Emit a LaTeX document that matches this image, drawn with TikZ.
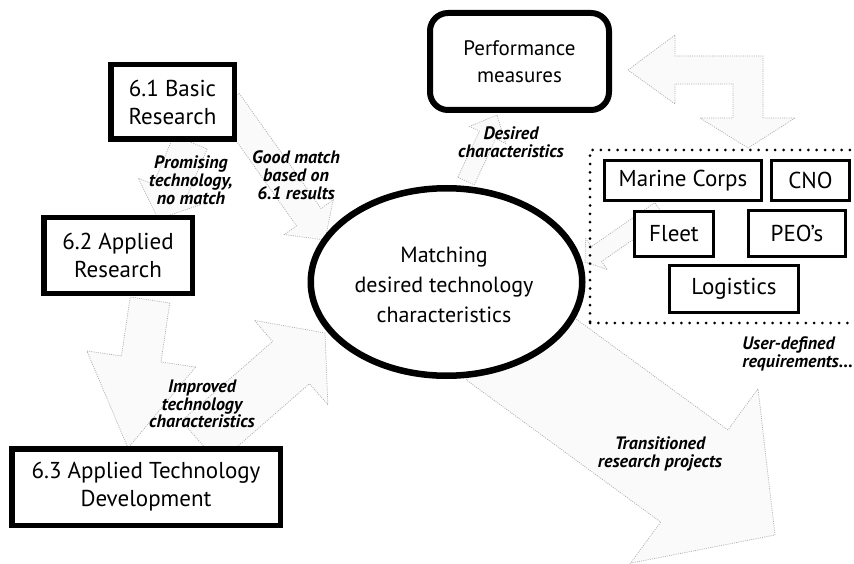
\documentclass[tikz,border=0pt]{standalone}
\usepackage{fontspec}
\setmainfont{PT Sans}
\usetikzlibrary{calc,shapes.geometric}
\pgfdeclarelayer{back}
\pgfdeclarelayer{bg}
\pgfsetlayers{back,bg,main}
\tikzset{
  mainbox/.style={draw, line width=5.5pt, fill=white, inner sep=0pt, align=center, font=\fontsize{23}{28}\selectfont},
  userbox/.style={draw, line width=3pt, fill=white, inner sep=0pt, font=\fontsize{23}{26}\selectfont},
  lbl/.style={align=center, font=\bfseries\itshape\fontsize{18}{17.8}\selectfont, inner sep=0pt},
  blockarr/.style={draw=black!32, fill=black!2, line width=0.7pt, dash pattern=on 1pt off 1.2pt},
  dotframe/.style={draw, line width=3pt, line cap=round, dash pattern=on 0pt off 8.3pt},
}
\newcommand\blockarrow[5]{%
  \coordinate (ba-h) at ($(#2)!#5!(#1)$);
  \path[blockarr] ($(#1)!#3!90:(#2)$) -- ($(ba-h)!#3!90:(#2)$) -- ($(ba-h)!#4!90:(#2)$) -- (#2) -- ($(ba-h)!#4!-90:(#2)$) -- ($(ba-h)!#3!-90:(#2)$) -- ($(#1)!#3!-90:(#2)$) -- cycle;
}
\begin{document}
\begin{tikzpicture}[x=1pt,y=-1pt]
\useasboundingbox (0,0) rectangle (854,564);
\begin{pgfonlayer}{back}
\fill[white] (0,0) rectangle (854,564);
\end{pgfonlayer}
\clip (0,0) rectangle (854,564);
% main boxes
\node[mainbox, minimum width=123.5pt, minimum height=74.5pt] (b61) at (172.5,102) {6.1 Basic\\Research};
\node[mainbox, minimum width=148.5pt, minimum height=75.5pt] (b62) at (118,255.5) {6.2 Applied\\Research};
\node[mainbox, minimum width=268.5pt, minimum height=76.5pt] (b63) at (146,487) {6.3 Applied Technology\\Development};
\node[mainbox, line width=6pt, rounded corners=18pt, minimum width=179pt, minimum height=97pt, font=\fontsize{21}{27}\selectfont] (perf) at (519.5,61.5) {Performance\\measures};
\node[draw, ellipse, line width=6.5pt, fill=white, inner sep=0pt, minimum width=271.5pt, minimum height=187.5pt] (match) at (446.5,282) {};
\node[align=center, inner sep=0pt, font=\fontsize{22}{30}\selectfont] (matchtxt) at (444,285) {Matching\\desired technology\\characteristics};
% user group
\node[dotframe, minimum width=280pt, minimum height=173pt, inner sep=0pt] (users) at (730,236.5) {};
\node[userbox, minimum width=157pt, minimum height=40pt] (mc) at (683,180.5) {Marine Corps};
\node[userbox, minimum width=78pt, minimum height=40pt] (cno) at (810.5,180.5) {CNO};
\node[userbox, minimum width=79pt, minimum height=45pt] (fleet) at (674,234) {Fleet};
\node[userbox, minimum width=97pt, minimum height=46pt] (peo) at (797,233.5) {PEO’s};
\node[userbox, minimum width=129pt, minimum height=47pt] (log) at (734,289) {Logistics};
% labels
\node[lbl] (lprom) at (191,180) {Promising\\technology,\\no match};
\node[lbl] (lgood) at (296,175) {Good match\\based on\\6.1 results};
\node[lbl] (ldes) at (511,142) {Desired\\characteristics};
\node[lbl] (limp) at (202,404) {Improved\\technology\\characteristics};
\node[lbl] (ltra) at (660,454) {Transitioned\\research projects};
\node[lbl, align=left, anchor=east] (luser) at (853,354) {User-defined\\requirements...};
% connectors (faint block arrows)
\begin{pgfonlayer}{bg}
\coordinate (promA) at ([xshift=18pt]b61.south);
\coordinate (promB) at ([xshift=40pt,yshift=-4pt]b62.north);
\blockarrow{promA}{promB}{18pt}{34pt}{30pt}
\coordinate (goodA) at ([xshift=-10pt]b61.east);
\coordinate (goodB) at (325,240);
\blockarrow{goodA}{goodB}{15pt}{30pt}{28pt}
\coordinate (desA) at ([xshift=19.5pt,yshift=4pt]match.north);
\coordinate (desB) at ([xshift=-22.5pt,yshift=-2pt]perf.south);
\blockarrow{desA}{desB}{9pt}{20pt}{22pt}
\coordinate (aplA) at ([xshift=32pt,yshift=-4pt]b62.south);
\coordinate (aplB) at ([xshift=-18pt,yshift=-2pt]b63.north);
\blockarrow{aplA}{aplB}{20pt}{55pt}{90pt}
\coordinate (impA) at ([xshift=54pt,yshift=4pt]b63.north);
\coordinate (impB) at (325,333);
\blockarrow{impA}{impB}{28pt}{56pt}{45pt}
\coordinate (traA) at (500,334);
\coordinate (traB) at (775,535);
\blockarrow{traA}{traB}{57pt}{108pt}{100pt}
\coordinate (usrA) at ([xshift=-14pt,yshift=24pt]fleet.center);
\coordinate (usrB) at (585,262);
\blockarrow{usrA}{usrB}{9pt}{19pt}{14pt}
% bent two-headed arrow between performance measures and users
\coordinate (bentL) at (628,70);
\coordinate (bentD) at (748,148);
\path[blockarr] (bentL) -- (675,35) -- (675,56) -- (763,56) -- (763,118) -- (795,118) -- (bentD) -- (700,118) -- (733,118) -- (733,84) -- (675,84) -- (675,104) -- cycle;
\end{pgfonlayer}
\end{tikzpicture}
\end{document}
